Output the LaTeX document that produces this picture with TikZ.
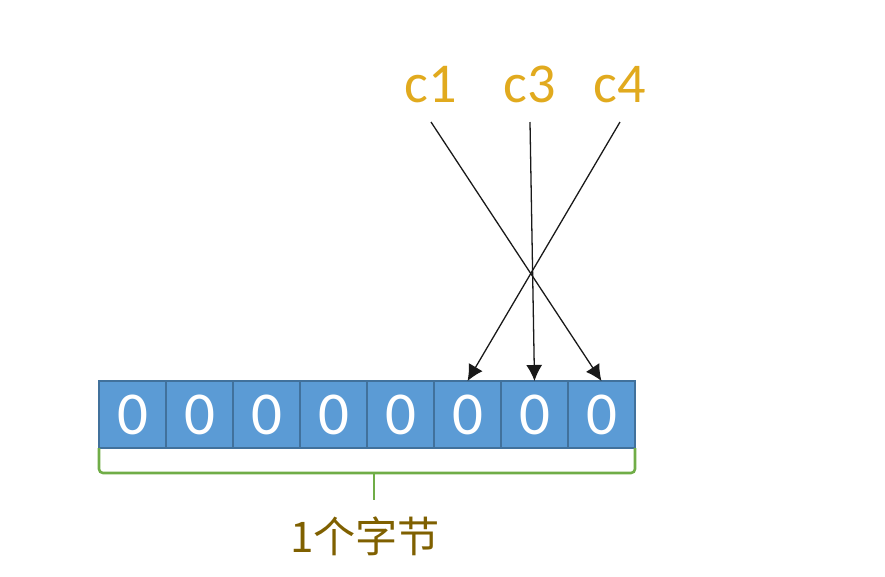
\documentclass[tikz,border=0pt]{standalone}
\usepackage{fontspec}
\usepackage{tikz}
\usetikzlibrary{arrows.meta}
\newfontfamily\latinfont{Carlito}
\newfontfamily\cjkfont{Noto Sans CJK SC}
\definecolor{cellblue}{HTML}{5B9BD5}
\definecolor{cellrim}{HTML}{41719C}
\definecolor{labelgold}{RGB}{225,170,30}
\definecolor{bytebrown}{HTML}{7F6000}
\definecolor{bracegreen}{HTML}{70AD47}
\tikzset{
  bitcell/.style={draw=cellrim,fill=cellblue,line width=1.3pt,minimum width=2.01cm,
    minimum height=2.01cm,inner sep=0pt,outer sep=0pt,text=white,
    font=\latinfont\fontsize{52}{52}\selectfont},
  hashlabel/.style={anchor=base,inner sep=0pt,outer xsep=0pt,outer ysep=0.6cm,text depth=0pt,
    text=labelgold,font=\latinfont\fontsize{48}{48}\selectfont},
  hasharrow/.style={-{Latex[length=0.48cm,width=0.48cm]},line width=1.1pt,black!90},
  bytebrace/.style={draw=bracegreen,line width=2.2pt,rounded corners=0.12cm}
}

\begin{document}
\begin{tikzpicture}[x=0.03cm,y=-0.03cm]
  \useasboundingbox (0,0) rectangle (885,576);
  % the eight bits of one byte
  \foreach \i in {0,...,7}
    \node[bitcell] (b\i) at ({99+67*(\i+0.5)},414.5) {0};
  % hash functions
  \node[hashlabel] (c1) at (431,102) {c1};
  \node[hashlabel] (c3) at (530,102) {c3};
  \node[hashlabel] (c4) at (620,102) {c4};
  \draw[hasharrow] (c1.south) -- (b7.north);
  \draw[hasharrow] (c3.south) -- (b6.north);
  \draw[hasharrow] (c4.south) -- (b5.north);
  % brace under the byte
  \draw[bytebrace] (b0.south west) -- ++(0,25) -| (b7.south east);
  \coordinate (tick) at (374,473);
  \draw[bytebrace] (tick) -- ++(0,27);
  \node[text=bytebrown,font=\cjkfont\fontsize{36}{36}\selectfont] (bytetext) at (365,536) {1个字节};
\end{tikzpicture}
\end{document}
